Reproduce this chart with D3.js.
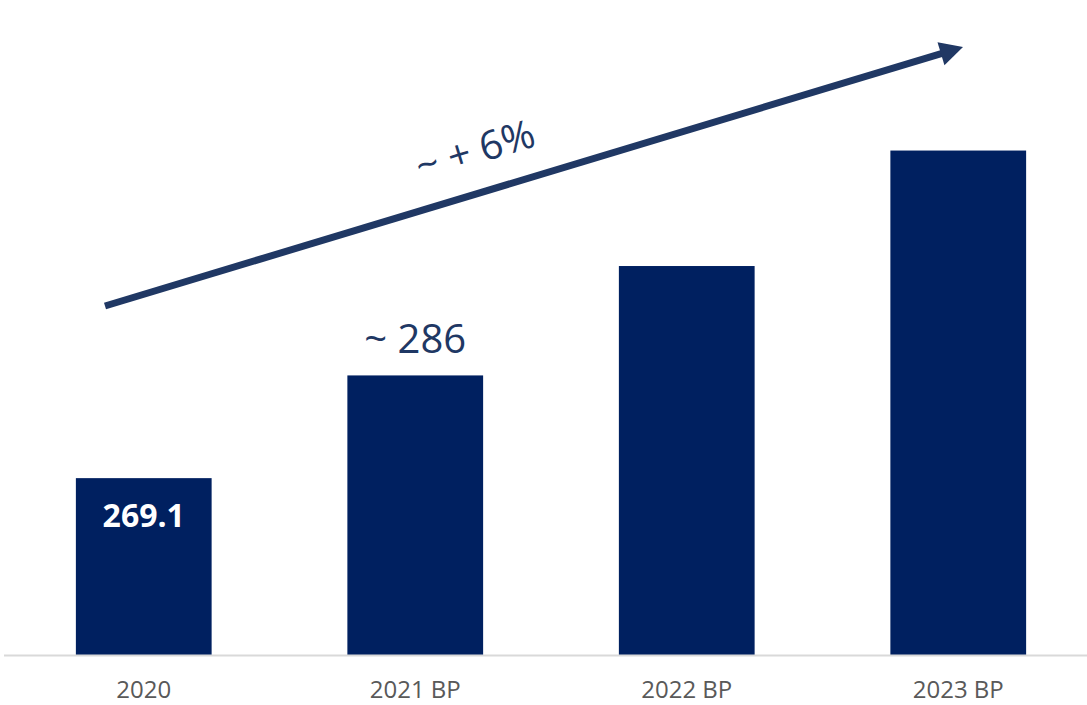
<!DOCTYPE html>
<html>
<head>
<meta charset="utf-8">
<script src="https://cdn.jsdelivr.net/npm/d3@7"></script>
<style>
  html, body { margin: 0; padding: 0; background: #ffffff; }
  svg { display: block; }
  text { font-family: "Open Sans", "Noto Sans", sans-serif; }
</style>
</head>
<body>
<svg id="chart" width="1087" height="705"></svg>
<script>
// Revenue by year (2021–2023 are business-plan figures)
const categories = ["2020", "2021 BP", "2022 BP", "2023 BP"];
const values = [269.1, 286, 304, 323];
// Labels written on the bars; null = no label
const valueLabels = ["269.1", "~ 286", null, null];
const growthLabel = "~ + 6%";

const W = 1087, H = 705;
const svg = d3.select("#chart");

const x = d3.scaleBand()
  .domain(categories)
  .range([8, 1094])
  .paddingInner(0.5)
  .paddingOuter(0.25);

const y = d3.scaleLinear()
  .domain([240, 330])
  .range([655, 108]);

// Bars
svg.append("g")
  .selectAll("rect")
  .data(values)
  .join("rect")
  .attr("x", (d, i) => x(categories[i]))
  .attr("y", d => y(d))
  .attr("width", x.bandwidth())
  .attr("height", d => y.range()[0] - y(d))
  .attr("fill", "#002060");

// Category axis: plain baseline, no ticks
const axis = svg.append("g")
  .attr("transform", `translate(0,${y.range()[0]})`)
  .call(d3.axisBottom(x).tickSize(0).tickPadding(26));
axis.select(".domain").remove();
axis.insert("line", ":first-child")
  .attr("x1", 4).attr("x2", W)
  .attr("y1", 0.5).attr("y2", 0.5)
  .attr("stroke", "#d9d9d9")
  .attr("stroke-width", 2);
axis.selectAll(".tick text")
  .attr("fill", "#595959")
  .style("font-family", "'Open Sans', sans-serif")
  .style("font-size", "24px");

// Value labels: inside the first bar (white bold), above the second
values.forEach((v, i) => {
  const lab = valueLabels[i];
  if (!lab) return;
  const cx = x(categories[i]) + x.bandwidth() / 2;
  if (i === 0) {
    svg.append("text")
      .attr("x", cx)
      .attr("y", y(v) + 49)
      .attr("text-anchor", "middle")
      .attr("fill", "#ffffff")
      .style("font-weight", "700")
      .style("font-size", "32px")
      .text(lab);
  } else {
    svg.append("text")
      .attr("x", cx)
      .attr("y", y(v) - 22)
      .attr("text-anchor", "middle")
      .attr("fill", "#1f3864")
      .style("font-size", "40px")
      .text(lab);
  }
});

// Growth arrow
const arrow = { x1: 105, y1: 306, x2: 963, y2: 47 };
const ang = Math.atan2(arrow.y2 - arrow.y1, arrow.x2 - arrow.x1);
const deg = ang * 180 / Math.PI;
const len = Math.hypot(arrow.x2 - arrow.x1, arrow.y2 - arrow.y1);
const headL = 23, headW = 12;
const ag = svg.append("g")
  .attr("transform", `translate(${arrow.x1},${arrow.y1}) rotate(${deg})`);
ag.append("line")
  .attr("x1", 0).attr("y1", 0)
  .attr("x2", len - headL + 2).attr("y2", 0)
  .attr("stroke", "#203864")
  .attr("stroke-width", 7);
ag.append("path")
  .attr("d", `M${len},0 L${len - headL},${-headW} L${len - headL},${headW} Z`)
  .attr("fill", "#203864");

// Growth label along the arrow
svg.append("text")
  .attr("transform", `translate(475,150) rotate(${deg})`)
  .attr("text-anchor", "middle")
  .attr("dy", "0.35em")
  .attr("fill", "#1f3864")
  .style("font-size", "40px")
  .text(growthLabel);
</script>
</body>
</html>
